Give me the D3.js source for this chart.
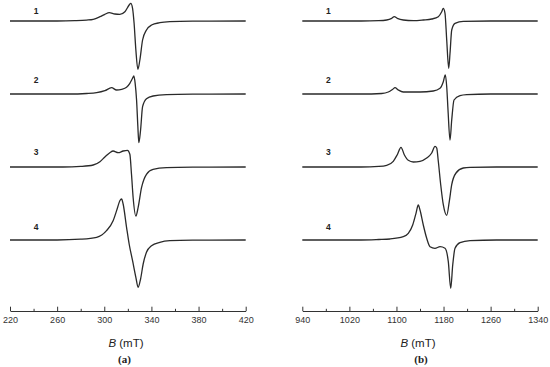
<!DOCTYPE html>
<html>
<head>
<meta charset="utf-8">
<script src="https://cdn.jsdelivr.net/npm/d3@7"></script>
<style>
  html, body { margin: 0; padding: 0; background: #fff; }
  svg { display: block; }
</style>
</head>
<body>
<svg id="chart" width="550" height="367"></svg>
<script>
// ---------- DATA (field B in mT, intensity in arbitrary units) ----------
const traceLabels = ["1", "2", "3", "4"];
const panelLabels = ["(a)", "(b)"];
const axisTitle = "(mT)";

const ticksA = [220, 260, 300, 340, 380, 420];
const minorTicksA = [240, 280, 320, 360, 400];
const ticksB = [940, 1020, 1100, 1180, 1260, 1340];
const minorTicksB = [980, 1060, 1140, 1220, 1300];

// Panel (a) spectra
const a1 = [[220,0],[260,0],[275,0.3],[285,0.9],[290.6,1.7],[296.3,4.3],[300.5,6.7],[304.2,8.3],[309,7],[313.2,6.7],
  [317.5,9.3],[321.1,16],[322.5,17.7],[324,12.7],[325.3,-2.3],[326.8,-29],[328.5,-48.3],[330.2,-39],
  [332.5,-19],[335.8,-9],[340.1,-4],[347.1,-1.7],[355.6,-0.7],[375,-0.2],[420,0]];
const a2 = [[220,0],[270,0],[285,0.5],[293.5,1.3],[300.5,3.3],[306.2,6.3],[310.4,4],[314.7,4.7],[318.9,6.7],
  [321.7,10.7],[324,15.7],[325.1,18],[326.2,10.7],[327.4,-6],[328.5,-32.7],[329.3,-48.7],[330.8,-36],
  [332.5,-12.7],[335.8,-4.7],[341.4,-2],[352.8,-0.7],[375,-0.2],[420,0]];
const a3 = [[220,0],[265,0],[280,0.6],[290.6,2],[296.3,5.3],[300.5,10],[304.7,14.3],[307.5,16],[311.8,14.3],
  [316,16],[319.7,16.7],[321.7,12.7],[323.1,-7.3],[324.5,-30.7],[326.8,-49],[328.7,-40.7],[331.6,-20.7],
  [335.8,-7.3],[341.4,-2.3],[352.8,-0.7],[375,-0.2],[420,0]];
const a4 = [[220,0],[260,0],[280,0.8],[293.5,2.7],[301.9,9.3],[307.5,19.3],[310.9,31],[313.2,39.3],[314.7,41],
  [316,36],[318.9,12.7],[321.1,-4],[324,-20.7],[326.8,-37.3],[328.7,-47.3],[330.8,-39],[333,-24],
  [335.8,-12.3],[340.1,-5.7],[347.1,-2.3],[355.6,-0.7],[375,-0.2],[420,0]];

// Panel (b) spectra
const b1 = [[940,0],[1040,0],[1070,0.3],[1083.4,1],[1091.9,2.7],[1096.3,4.3],[1101.4,2.7],[1111.6,1],
  [1128.6,0.3],[1145.6,1],[1159.9,2],[1171.1,4.3],[1176.9,9.3],[1179.6,12.7],[1182.5,7.7],[1185.4,-19],
  [1188.8,-47.3],[1191,-32.3],[1193.9,-9],[1199.5,-2.3],[1213.6,-0.3],[1260,0],[1340,0]];
const b2 = [[940,0],[1040,0],[1075,0.5],[1086.1,2],[1093.6,4.7],[1097.5,6.3],[1103.1,4],[1111.6,2],
  [1140,2],[1162.6,3],[1174,5.7],[1179.6,12.3],[1183,19],[1185.4,7.3],[1187.6,-16],[1191,-46],
  [1193.9,-26],[1197.8,-6],[1208,-1.7],[1219.4,-0.7],[1260,0],[1340,0]];
const b3 = [[940,0],[1040,0],[1070,0.6],[1083.4,1.7],[1094.6,5.7],[1101.4,12.3],[1107.7,19.7],[1113.3,12.3],
  [1120.1,6.7],[1128.6,5],[1140,5.7],[1151.4,9],[1159.9,14],[1165.5,20.7],[1168.4,19],[1171.1,5.7],
  [1175.2,-17.7],[1179.6,-37.7],[1185.4,-48.3],[1189.8,-34.3],[1193.9,-17.7],[1201.2,-6],[1213.6,-1],
  [1225,-0.3],[1270,0],[1340,0]];
const b4 = [[940,0],[1040,0],[1070,0.5],[1089,1],[1111.6,3.3],[1120.1,6.7],[1127.6,15],[1133.2,26.7],
  [1137.1,35],[1140,30],[1145.6,15],[1151.4,1.7],[1157,-6.7],[1165.5,-8.3],[1174,-6.7],[1182.5,-8.3],
  [1188.1,-21.7],[1192.2,-48.3],[1195.6,-25],[1199.5,-8.3],[1208,-2.7],[1225,-0.7],[1270,0],[1340,0]];

const seriesA = [a1, a2, a3, a4];
const seriesB = [b1, b2, b3, b4];

// ---------- LAYOUT ----------
const svg = d3.select("#chart");
const axisY = 311;
const stackStep = 73;       // vertical offset between spectra, in intensity units
const labelRise = [9.8, 14, 15.3, 12.8];

const y = d3.scaleLinear().domain([21, -290]).range([0, 311]);

const panels = [
  { x0: 10, x1: 245.7, domain: [220, 420], ticks: ticksA, minor: minorTicksA, series: seriesA, label: panelLabels[0], titleX: 126, labelX: 124.5 },
  { x0: 302.3, x1: 537.7, domain: [940, 1340], ticks: ticksB, minor: minorTicksB, series: seriesB, label: panelLabels[1], titleX: 418, labelX: 421 }
];

panels.forEach(p => {
  const x = d3.scaleLinear().domain(p.domain).range([p.x0, p.x1]);
  const g = svg.append("g");

  p.series.forEach((s, i) => {
    const line = d3.line()
      .x(d => x(d[0]))
      .y(d => y(d[1] - i * stackStep))
      .curve(d3.curveMonotoneX);
    g.append("path")
      .datum(s)
      .attr("d", line)
      .attr("fill", "none")
      .attr("stroke", "#2a2a2a")
      .attr("stroke-width", 1.3)
      .attr("stroke-linejoin", "round");

    g.append("text")
      .attr("x", x(p.domain[0]) + 26)
      .attr("y", y(-i * stackStep) - labelRise[i])
      .attr("text-anchor", "middle")
      .attr("dominant-baseline", "central")
      .attr("font-family", "Liberation Sans, Arial, sans-serif")
      .attr("font-weight", "bold")
      .attr("font-size", 8.5)
      .attr("fill", "#222")
      .text(traceLabels[i]);
  });

  // major axis
  const axis = d3.axisBottom(x)
    .tickValues(p.ticks)
    .tickSizeInner(-4.3)
    .tickSizeOuter(0)
    .tickPadding(6)
    .tickFormat(d3.format("d"));
  const ax = g.append("g")
    .attr("transform", `translate(0,${axisY})`)
    .call(axis);
  ax.select(".domain").attr("stroke", "#333").attr("stroke-width", 1);
  ax.selectAll(".tick line").attr("stroke", "#333").attr("stroke-width", 1);
  ax.selectAll(".tick text")
    .attr("font-family", "Liberation Sans, Arial, sans-serif")
    .attr("font-size", 9)
    .attr("fill", "#333");

  // minor ticks
  const minorAxis = d3.axisBottom(x)
    .tickValues(p.minor)
    .tickSizeInner(-2.2)
    .tickSizeOuter(0)
    .tickFormat("");
  const mx = g.append("g")
    .attr("transform", `translate(0,${axisY})`)
    .call(minorAxis);
  mx.select(".domain").remove();
  mx.selectAll(".tick line").attr("stroke", "#333").attr("stroke-width", 1);

  // axis title
  const t = g.append("text")
    .attr("x", p.titleX)
    .attr("y", 347)
    .attr("text-anchor", "middle")
    .attr("font-family", "Liberation Sans, Arial, sans-serif")
    .attr("font-size", 11.5)
    .attr("fill", "#222");
  t.append("tspan").attr("font-style", "italic").text("B");
  t.append("tspan").text(" " + axisTitle);

  // panel label
  g.append("text")
    .attr("x", p.labelX)
    .attr("y", 363)
    .attr("text-anchor", "middle")
    .attr("font-family", "Liberation Serif, Times New Roman, serif")
    .attr("font-weight", "bold")
    .attr("font-size", 11)
    .attr("fill", "#222")
    .text(p.label);
});
</script>
</body>
</html>
